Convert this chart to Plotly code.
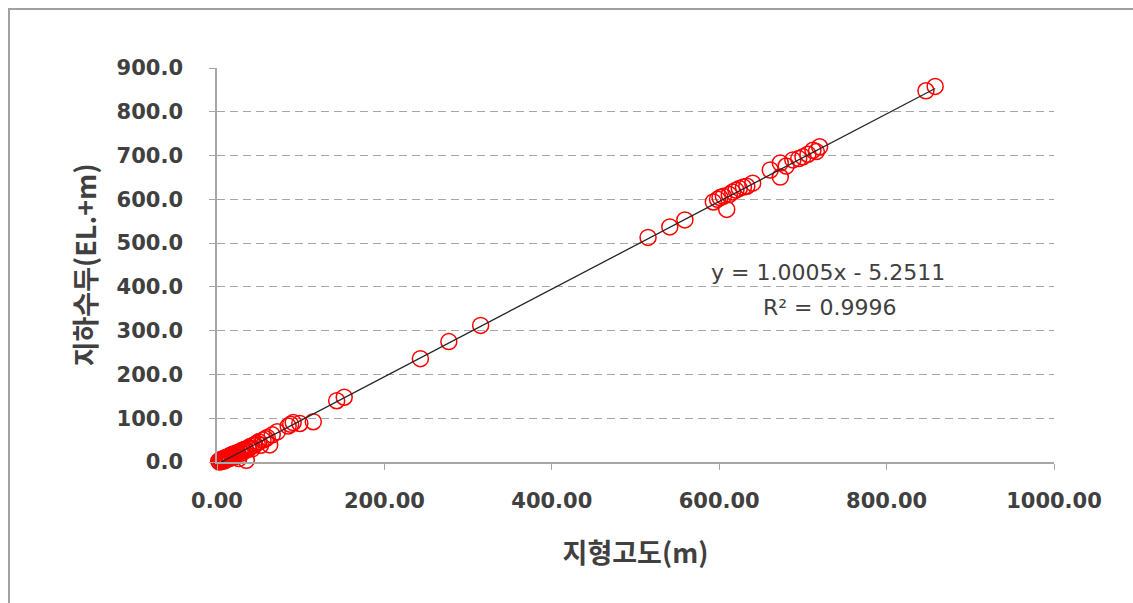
import plotly.graph_objects as go

# Terrain elevation (m) vs groundwater head (EL.+m) at observation wells
elevation = [
    2, 3, 4, 5, 5, 6, 7, 8, 8, 9, 10, 10, 11, 12, 13, 14, 15, 15, 16, 17,
    18, 19, 20, 21, 22, 23, 24, 25, 26, 28, 29, 30, 31, 33, 34, 35, 37, 38, 40, 42,
    44, 45, 48, 50, 52, 55, 58, 60, 63, 66, 72,
    85, 88, 91, 99, 115, 143, 152, 243, 277, 315,
    515, 541, 559, 593, 598, 601, 605, 609, 612, 616, 620, 624, 629, 633, 640,
    661, 673, 673, 680, 688, 695, 700, 706, 712, 716, 720,
    847, 858,
]
head = [
    2, 0, 4, 1, 6, 3, 5, 8, 2, 6, 10, 4, 9, 7, 12, 9, 14, 8, 11, 16,
    13, 18, 15, 12, 17, 20, 19, 22, 8, 24, 20, 27, 25, 29, 26, 4, 32, 30, 36, 30,
    38, 40, 43, 46, 38, 50, 53, 56, 39, 62, 69,
    82, 86, 90, 88, 92, 140, 148, 236, 275, 312,
    513, 537, 553, 594, 600, 604, 607, 577, 611, 617, 621, 625, 628, 630, 637,
    667, 651, 683, 676, 690, 693, 697, 703, 712, 709, 720,
    848, 858,
]

# Linear trendline coefficients from the fit shown on the chart
slope = 1.0005
intercept = -5.2511
r_squared = 0.9996

x_ticks = [0, 200, 400, 600, 800, 1000]
y_ticks = [0, 100, 200, 300, 400, 500, 600, 700, 800, 900]

x_fit = [min(elevation), max(elevation)]
y_fit = [slope * v + intercept for v in x_fit]

fig = go.Figure()

fig.add_trace(go.Scatter(
    x=elevation, y=head, mode="markers",
    marker=dict(symbol="circle-open", size=16, color="#ff0000",
                line=dict(width=1.5, color="#ff0000")),
    showlegend=False, cliponaxis=False,
))

fig.add_trace(go.Scatter(
    x=x_fit, y=y_fit, mode="lines",
    line=dict(color="#262626", width=1.3),
    showlegend=False,
))

text_color = "#404040"
tick_font = dict(family="DejaVu Sans, sans-serif", size=21, color=text_color)
title_font = dict(family="Noto Sans CJK KR, Noto Sans, sans-serif", size=27, color=text_color)
note_font = dict(family="DejaVu Sans, sans-serif", size=22, color=text_color)

fig.update_layout(
    width=1133, height=603,
    margin=dict(l=217, r=79, t=68, b=141),
    paper_bgcolor="white", plot_bgcolor="white",
    xaxis=dict(
        range=[0, 1000], tickvals=x_ticks,
        ticktext=[f"<b>{v:.2f}</b>" for v in x_ticks],
        showgrid=False, zeroline=False,
        showline=True, linecolor="#a6a6a6", linewidth=1.5,
        ticks="outside", ticklen=6, tickcolor="#a6a6a6",
        ticklabelstandoff=13,
        tickfont=tick_font, automargin=False,
        title=dict(text="<b>지형고도(m)</b>", font=title_font, standoff=32),
    ),
    yaxis=dict(
        range=[0, 900], tickvals=y_ticks,
        ticktext=[f"<b>{v:.1f}</b>" for v in y_ticks],
        showgrid=True, gridcolor="#a6a6a6", griddash="8px,5px", gridwidth=1.4,
        zeroline=False,
        showline=True, linecolor="#a6a6a6", linewidth=1.5,
        ticks="outside", ticklen=6, tickcolor="#a6a6a6",
        ticklabelstandoff=22,
        tickfont=tick_font, automargin=False,
        title=dict(text="<b>지하수두(EL.+m)</b>", font=title_font, standoff=12),
    ),
    shapes=[dict(
        type="rect", xref="paper", yref="paper",
        x0=-0.2485, x1=1.2, y0=-0.4, y1=1.1497,
        line=dict(color="#a0a0a0", width=2), layer="below",
    )],
    annotations=[
        dict(x=730, y=432, xref="x", yref="y", showarrow=False,
             text=f"y = {slope:.4f}x - {abs(intercept):.4f}", font=note_font),
        dict(x=732, y=352, xref="x", yref="y", showarrow=False,
             text=f"R² = {r_squared:.4f}", font=note_font),
    ],
)

fig.write_html("out.html")
